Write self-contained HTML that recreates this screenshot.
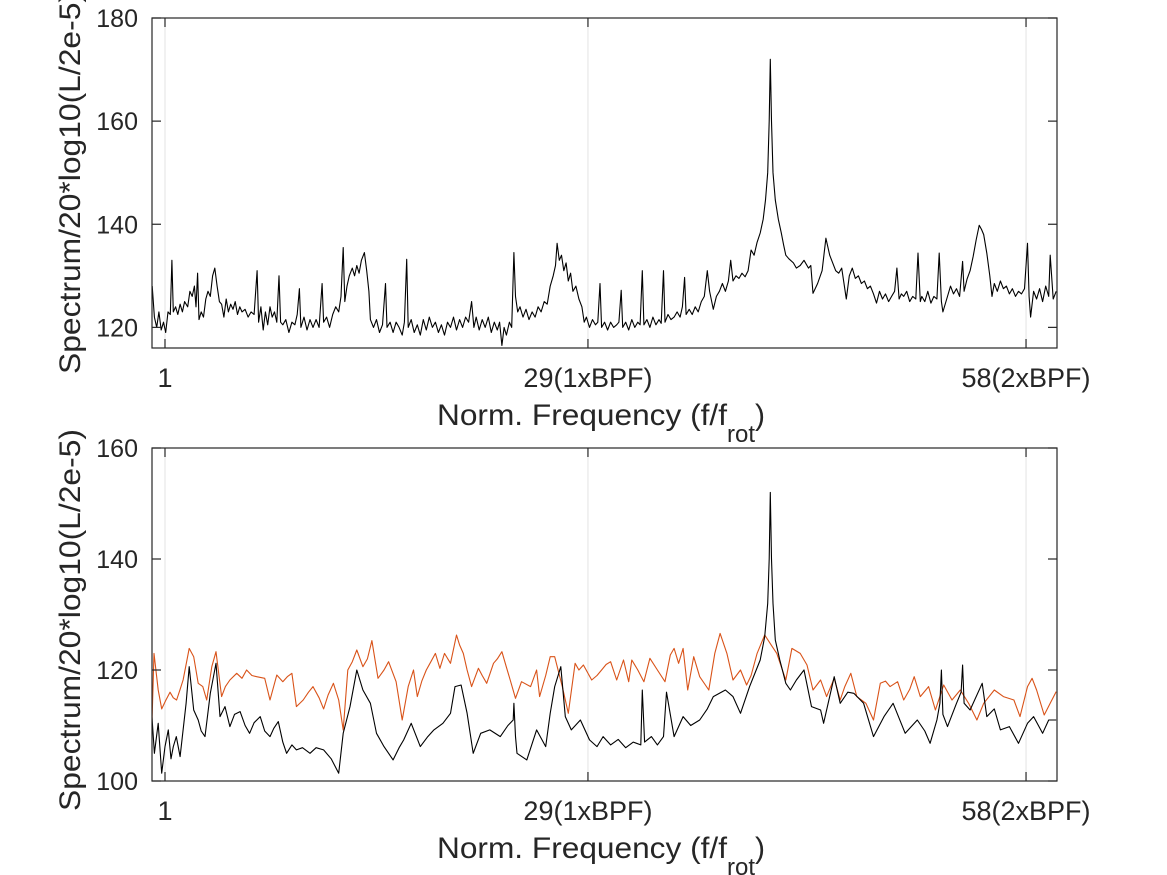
<!DOCTYPE html>
<html><head><meta charset="utf-8"><style>
html,body{margin:0;padding:0;background:#fff;}
svg{display:block;font-family:"Liberation Sans",Arial,sans-serif;}
</style></head><body>
<svg id="chart" width="1167" height="875" viewBox="0 0 1167 875" xmlns="http://www.w3.org/2000/svg">
<g id="top"></g>
<g id="bot"></g>
</svg>
<script>
const xTicks=[1,29,58];
const xTickLabels=["1","29(1xBPF)","58(2xBPF)"];
const topYTicks=[120,140,160,180];
const botYTicks=[100,120,140,160];
const topFreq=[0.15,0.3,0.45,0.6,0.75,0.9,1.05,1.2,1.35,1.46,1.55,1.7,1.85,2.0,2.15,2.3,2.5,2.65,2.8,2.95,3.05,3.16,3.25,3.4,3.55,3.7,3.85,4.0,4.15,4.3,4.45,4.6,4.75,4.9,5.05,5.2,5.35,5.5,5.65,5.8,5.95,6.1,6.3,6.5,6.7,6.9,7.1,7.2,7.35,7.5,7.65,7.8,7.95,8.1,8.25,8.4,8.55,8.65,8.8,9.0,9.2,9.4,9.6,9.75,9.9,10.0,10.2,10.4,10.6,10.8,11.0,11.2,11.4,11.5,11.7,11.9,12.1,12.3,12.5,12.65,12.8,12.9,13.05,13.2,13.4,13.55,13.7,13.85,14.0,14.2,14.35,14.5,14.6,14.8,15.0,15.2,15.4,15.6,15.7,15.9,16.1,16.3,16.5,16.7,16.85,17.0,17.1,17.3,17.5,17.7,17.9,18.1,18.3,18.5,18.7,18.9,19.1,19.3,19.5,19.7,19.9,20.1,20.3,20.5,20.7,20.9,21.1,21.3,21.45,21.6,21.8,22.0,22.2,22.4,22.6,22.8,23.0,23.15,23.3,23.45,23.6,23.8,23.95,24.1,24.2,24.35,24.5,24.7,24.9,25.1,25.3,25.5,25.7,25.9,26.1,26.3,26.5,26.7,26.85,26.96,27.1,27.25,27.4,27.55,27.7,27.85,28.0,28.2,28.4,28.6,28.75,28.9,29.1,29.3,29.5,29.65,29.8,29.9,30.1,30.3,30.5,30.7,30.9,31.05,31.2,31.3,31.5,31.7,31.9,32.1,32.3,32.45,32.6,32.7,32.9,33.1,33.3,33.5,33.7,33.85,34.0,34.1,34.3,34.5,34.7,34.9,35.1,35.25,35.4,35.5,35.7,35.9,36.1,36.3,36.5,36.7,36.9,37.05,37.3,37.5,37.7,37.9,38.1,38.3,38.45,38.6,38.8,39.0,39.2,39.4,39.6,39.8,40.0,40.2,40.4,40.6,40.75,40.9,41.0,41.07,41.15,41.25,41.4,41.6,41.8,41.95,42.1,42.3,42.6,42.8,43.05,43.3,43.6,43.75,43.9,44.2,44.5,44.75,45.0,45.2,45.4,45.6,45.8,46.1,46.3,46.5,46.7,46.9,47.1,47.3,47.5,47.7,47.9,48.1,48.3,48.5,48.7,48.9,49.1,49.3,49.45,49.6,49.75,49.9,50.1,50.3,50.5,50.7,50.85,51.0,51.1,51.3,51.5,51.7,51.9,52.1,52.25,52.4,52.5,52.8,53.0,53.2,53.4,53.6,53.8,53.9,54.1,54.3,54.5,54.7,54.9,55.05,55.2,55.4,55.6,55.75,55.9,56.1,56.3,56.5,56.7,56.9,57.1,57.3,57.5,57.7,57.9,58.1,58.2,58.3,58.5,58.7,58.9,59.1,59.3,59.5,59.6,59.8,60.0];
const topVals=[128,122,120,123,119.5,121,119,123,122.5,133,123,124,122.5,124.5,123,125,124,127,126,128,124,130.5,121.5,123,122,125.5,127,126,130,131.5,128,125,124.5,122,125.5,123,124.5,123.5,125,122.5,124,123,123.5,122,123,122.5,131,121,124,119.5,123,120.5,124,122,123,121,130,121,120.5,121.5,119,121,120.5,122.5,127.5,120,122,119.5,121.5,120,121.5,120,128.5,121,122,120,122.5,124,123,126,135.5,125,128,130,131.5,130,132,130.5,133,134.5,131,127,121.5,120,121.5,119,120.5,128.5,120,121,119,121,120,118.5,121,133.2,120,121.5,119,120.5,118.5,121.5,119.5,122,120,121,119,120.5,118.5,121,120,122,119.5,121.5,120,122,121,125,120,122,119.5,121.5,120,122,119,121,119.5,121,116.5,120,118.5,121,120,134.5,126,123,124,122,123.5,121.5,123,122,124,123,125,124.5,128,130,132,136.3,133,134,131,132.5,129,130.5,127,128,125.5,124,121,122,120,121.5,120.5,121,128.5,120,121,119.5,121,120,120.5,121,127.2,120,121,119.5,121.5,120,121,120.5,131,120.5,121.5,120,122,120.5,121.5,120.8,131,121,122.5,121.5,122,123,122,124,129.7,122.5,123.5,122.5,124,123,125,126,131,127,123.5,126,127,128.5,127,129,133,129,130,129.5,130.5,129.8,131,135,134,136.5,138.3,141,144.7,150,160,172,160,150,144.7,141,138.3,136,134,133.3,132.5,131.5,132,133,131.5,132,126.6,128.5,131,137.3,134,132.5,131,130.5,131.5,125.5,130,131.5,129.5,130,128.5,129,127.5,128,126.5,124.7,127,125.5,126.5,125,126,127,131.5,125.5,126.5,126,127,125,126,125.5,134.4,125,126,125,127,124.7,126,125.5,134.4,125,123,126,128,126.5,127.5,126,132.8,127,129.4,131,133.8,137,139.8,139,138,134.4,130,126,128.5,127,129,127.5,128,126.5,127.5,126,127,126.5,127.5,136.3,126,122,127,125.5,127.5,125,128,126,134,125.5,127,125.5];
const botFreqO=[0.1,0.27,0.55,0.78,1.05,1.33,1.55,1.77,2.0,2.2,2.4,2.6,2.9,3.2,3.5,3.76,4.1,4.38,4.75,5.0,5.3,5.75,6.1,6.4,6.75,7.07,7.6,7.95,8.4,8.8,9.1,9.4,9.7,10.15,10.5,10.8,11.2,11.5,11.8,12.15,12.5,12.8,13.1,13.4,13.7,14.1,14.4,14.7,15.1,15.5,15.8,16.3,16.7,17.1,17.45,17.7,18.0,18.3,18.6,18.9,19.2,19.5,19.9,20.3,20.5,20.75,21.0,21.3,21.75,22.0,22.3,22.75,23.0,23.3,23.6,23.85,24.2,24.6,25.2,25.6,25.8,26.2,26.5,26.8,27.3,27.7,28.15,28.4,28.7,29.25,29.6,29.9,30.2,30.5,30.9,31.35,31.7,31.9,32.3,32.7,33.1,33.6,34.1,34.45,34.7,35.0,35.3,35.6,36.0,36.4,37.0,37.4,37.75,38.2,38.6,39.1,39.5,39.8,40.2,40.7,41.2,41.5,42.1,42.5,43.05,43.5,43.9,44.4,44.8,45.3,45.7,46.0,46.4,46.8,47.4,47.9,48.35,48.7,49.0,49.5,49.9,50.3,50.6,51.0,51.55,52.0,52.55,53.1,53.65,54.2,54.75,55.2,55.9,56.5,57.2,57.6,58.1,58.4,58.7,59.2,59.6,60.0];
const botValsO=[107,123,116.4,113,114.5,116,115,114.6,116.5,118.2,121,123.9,122.4,117.6,117,114.6,120.6,123.3,115.2,117,118.2,119.4,118.5,120,119,118.8,118.5,114.6,119.1,117.9,118.8,119.4,113.4,114.6,116,117,115,113,115.5,117.6,114.6,109.2,120,121.5,123.6,120.6,122,125.3,118.5,120,121.5,117.9,111,117,120,115.2,118,120,121.5,123,120.3,123,121.2,126.3,124.5,123,120,117,120.3,119,117.6,121.2,122,123.3,120.5,118.2,114.9,117.9,117,120,115.2,119,122.4,122.4,117,112.2,121.2,120,120.9,118.2,119,120,121,121.5,118.2,121.8,117.9,121.8,120,117.9,122.1,120,117.9,122.7,123.9,121.2,123.9,116.4,122.4,118.8,116.4,123,126.6,123,118.2,120,117.3,119,123,126.3,124.2,123,118.2,123.9,123,120.9,116.4,118.2,115.2,118.5,114.6,117,119.4,115.2,114,111,117.6,118,117,117.9,114.6,116.5,118.8,115.2,117,112.8,117.3,114.6,116.4,114,111,114,116.4,115.2,114.6,111.6,117,118.5,116.4,111.9,114,116.1];
const botFreqK=[0.05,0.3,0.55,0.78,1.0,1.22,1.4,1.55,1.75,2.0,2.2,2.4,2.6,2.9,3.2,3.4,3.65,4.0,4.38,4.64,4.97,5.3,5.6,5.97,6.3,6.6,6.9,7.3,7.6,7.95,8.2,8.5,8.8,9.05,9.4,9.7,10.1,10.6,11.0,11.5,12.0,12.5,12.8,13.25,13.7,14.1,14.6,15.0,15.5,16.1,16.5,16.8,17.3,17.9,18.4,18.8,19.4,19.9,20.2,20.6,21.0,21.4,21.9,22.5,23.2,23.7,24.05,24.1,24.2,24.3,24.95,25.6,26.2,26.5,26.8,27.2,27.5,27.9,28.5,29.1,29.6,30.0,30.5,31.0,31.5,32.0,32.5,32.6,32.75,33.2,33.6,34.0,34.2,34.7,35.3,35.8,36.4,36.9,37.3,38.1,38.6,39.1,39.7,40.4,40.7,40.9,41.0,41.07,41.15,41.25,41.4,41.7,42.1,42.4,42.8,43.3,43.8,44.4,44.6,45.3,45.7,46.2,46.6,47.25,47.9,48.6,49.2,50.0,50.8,51.3,51.65,52.1,52.3,52.4,52.5,52.8,53.4,53.7,53.8,53.9,54.3,55.1,55.4,55.9,56.3,56.9,57.5,58.1,58.5,59.1,59.5,60.0];
const botValsK=[115.2,105,110.4,101.4,106.2,109.2,104,106.2,108,104.4,109.2,114,120.6,112.8,111,109,108,115.8,121.2,111.6,113.4,109.8,112,112.5,110,108.6,110.5,111.6,109,108,109.5,110.7,107,105,106.5,105.6,106,105,106,105.6,104,101.4,108.6,113.4,120,116.4,114,108.6,106.2,103.8,106,107.4,110.4,106.2,108,109.2,110.4,112.2,117,117.3,112.2,105,108.6,109.2,108,110,111,114,108,105,103.8,109.2,106.2,112.2,117,120.6,111.6,109.2,111,107.4,106.2,108,106.5,107.5,106,107,106.5,116.4,107,108,106.5,108,116,108,111.6,110,111,113,115.2,116.4,115.2,112.2,117,121.8,126,132,140,152,140,132,125.4,121.8,117.6,116.4,118.2,120,113.4,112.8,110.4,118.8,114,116,115.8,114,108,111.6,114,108.6,111,109,106.8,111,114,120,112,109.8,114,116,120.9,114,112.8,117.6,111.6,113,109.2,109.8,106.8,110.4,111.6,108.6,111,111];

const NS='http://www.w3.org/2000/svg';
function mk(parent,tag,attrs,txt){const e=document.createElementNS(NS,tag);for(const k in attrs)e.setAttribute(k,attrs[k]);if(txt!==undefined)e.textContent=txt;parent.appendChild(e);return e;}

function drawAxes(g,box,yMin,yMax,yTicks,series,labelCenterY){
  const x0=box.x0,x1=box.x1,y0=box.y0,y1=box.y1,xMin=0.14,xMax=60.05;
  const sx=f=>x0+(f-xMin)/(xMax-xMin)*(x1-x0);
  const sy=v=>y1-(v-yMin)/(yMax-yMin)*(y1-y0);
  xTicks.forEach(t=>{
    const l=mk(g,'line',{x1:sx(t),x2:sx(t),y1:y0,y2:y1,stroke:'#e3e3e3','stroke-width':1});
    
    
  });
  const cid='clip'+Math.round(y0);
  const cp=mk(g,'clipPath',{id:cid});mk(cp,'rect',{x:x0,y:y0,width:x1-x0,height:y1-y0});
  series.forEach(s=>{
    let d='';
    s.f.forEach((f,i)=>{d+=(i?'L':'M')+sx(f).toFixed(1)+','+sy(s.v[i]).toFixed(1);});
    const p=mk(g,'path',{d:d,fill:'none',stroke:s.c,'stroke-width':1.1,'stroke-linejoin':'round','clip-path':'url(#'+cid+')'});
    
    
  });
  const r=mk(g,'rect',{x:x0,y:y0,width:x1-x0,height:y1-y0,fill:'none',stroke:'#262626','stroke-width':1.2});
  
  
  xTicks.forEach((t,i)=>{
    mk(g,'line',{x1:sx(t),x2:sx(t),y1:y1,y2:y1-9,stroke:'#262626','stroke-width':1.2});
    mk(g,'line',{x1:sx(t),x2:sx(t),y1:y0,y2:y0+9,stroke:'#262626','stroke-width':1.2});
    const tx=mk(g,'text',{x:sx(t),y:y1+39,'text-anchor':'middle','font-size':27,fill:'#262626'},xTickLabels[i]);
    
    
  });
  yTicks.forEach(t=>{
    mk(g,'line',{x1:x0,x2:x0+9,y1:sy(t),y2:sy(t),stroke:'#262626','stroke-width':1.2});
    mk(g,'line',{x1:x1,x2:x1-9,y1:sy(t),y2:sy(t),stroke:'#262626','stroke-width':1.2});
    const tx=mk(g,'text',{x:x0-14,y:sy(t)+9,'text-anchor':'end','font-size':25,fill:'#262626'},String(t));
    
    
  });
  const xl=mk(g,'text',{x:437,y:y1+77,'font-size':30,fill:'#262626'});
  
  
  mk(xl,'tspan',{textLength:290,lengthAdjust:'spacingAndGlyphs'},'Norm. Frequency (f/f');
  mk(xl,'tspan',{dy:17,'font-size':24},'rot');
  mk(xl,'tspan',{dy:-17},')');
  const yl=mk(g,'text',{x:0,y:0,'text-anchor':'middle','font-size':30,fill:'#262626',textLength:382,lengthAdjust:'spacingAndGlyphs',transform:'translate(80,'+labelCenterY+') rotate(-90)'},'Spectrum/20*log10(L/2e-5)');
  
  
}
drawAxes(document.getElementById('top'),{x0:152,x1:1057,y0:18,y1:348},116,180,topYTicks,
  [{f:topFreq,v:topVals,c:'#000',n:'top-spectrum-line'}],183);
drawAxes(document.getElementById('bot'),{x0:152,x1:1057,y0:448,y1:781},100,160,botYTicks,
  [{f:botFreqO,v:botValsO,c:'#d95319',n:'orange-spectrum-line'},{f:botFreqK,v:botValsK,c:'#000',n:'black-spectrum-line'}],620);
</script>
</body></html>
